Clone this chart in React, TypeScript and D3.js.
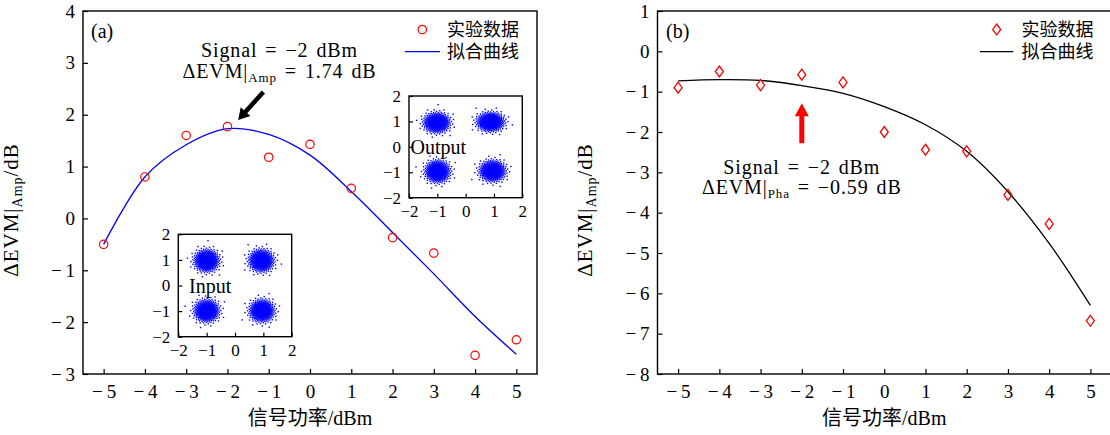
import React, { useEffect, useRef } from 'react';
import * as d3 from 'd3';

const W = 1110;
const H = 435;

// ---------------- data ----------------
const powerLevels = [-5, -4, -3, -2, -1, 0, 1, 2, 3, 4, 5];
const ampMeasured = [-0.5, 0.8, 1.6, 1.77, 1.18, 1.43, 0.58, -0.37, -0.67, -2.64, -2.34];
const ampFit = [-0.5, 0.8, 1.42, 1.73, 1.62, 1.22, 0.52, -0.27, -1.07, -1.89, -2.62];
const phaMeasured = [-0.9, -0.5, -0.84, -0.58, -0.77, -2.0, -2.44, -2.48, -3.56, -4.28, -6.68];
const phaFit = [-0.73, -0.7, -0.72, -0.85, -1.04, -1.37, -1.82, -2.48, -3.48, -4.76, -6.3];

const xTicks = [-5, -4, -3, -2, -1, 0, 1, 2, 3, 4, 5];
const yTicksAmp = [-3, -2, -1, 0, 1, 2, 3, 4];
const yTicksPha = [-8, -7, -6, -5, -4, -3, -2, -1, 0, 1];
const insetTicks = [-2, -1, 0, 1, 2];

// constellation clusters: centre x, centre y, spread x, spread y
const inputClusterCx = [-1.0, 0.93, -1.0, 0.95];
const inputClusterCy = [0.97, 0.97, -0.99, -0.99];
const inputClusterSx = [0.21, 0.21, 0.21, 0.21];
const inputClusterSy = [0.21, 0.21, 0.21, 0.21];
const outputClusterCx = [-1.02, 0.88, -0.99, 0.95];
const outputClusterCy = [0.95, 0.98, -0.97, -0.95];
const outputClusterSx = [0.22, 0.23, 0.21, 0.22];
const outputClusterSy = [0.19, 0.18, 0.21, 0.2];

const xLabel = '信号功率/dBm';
const legendMeasured = '实验数据';
const legendFit = '拟合曲线';

const SERIF = '"Liberation Serif", "Noto Sans CJK SC", serif';

const fmtMain = (d: number) => (d < 0 ? '\u2212\u2009' + Math.abs(d) : String(d));
const fmtInset = (d: number) => (d < 0 ? '\u2212' + Math.abs(d) : String(d));

export default function App() {
  const ref = useRef<SVGSVGElement>(null);

  useEffect(() => {
    const svg = d3.select(ref.current);
    svg.selectAll('*').remove();

    const xL = d3.scaleLinear().domain([-5.5, 5.5]).range([83, 537]);
    const yL = d3.scaleLinear().domain([-3, 4]).range([374, 11]);
    const xR = d3.scaleLinear().domain([-5.5, 5.5]).range([657.5, 1111]);
    const yR = d3.scaleLinear().domain([-8, 1]).range([374, 11]);

    const styleTicks = (g: any, fs: number) => {
      g.select('.domain').remove();
      g.attr('font-family', SERIF).attr('font-size', fs);
      g.selectAll('.tick line').attr('stroke', '#000').attr('stroke-width', 1.2);
      g.selectAll('.tick text').attr('fill', '#000');
    };

    const drawFrame = (x: any, y: any, xt: number[], yt: number[], fs: number, tl: number, padX: number, padY: number, fmt: any) => {
      const gx = svg.append('g').attr('transform', `translate(0,${y.range()[0]})`)
        .call(d3.axisBottom(x).tickValues(xt).tickFormat(fmt).tickSizeInner(-tl).tickSizeOuter(0).tickPadding(padX));
      styleTicks(gx, fs);
      const gy = svg.append('g').attr('transform', `translate(${x.range()[0]},0)`)
        .call(d3.axisLeft(y).tickValues(yt).tickFormat(fmt).tickSizeInner(-tl).tickSizeOuter(0).tickPadding(padY));
      styleTicks(gy, fs);
      svg.append('rect')
        .attr('x', x.range()[0]).attr('y', y.range()[1])
        .attr('width', x.range()[1] - x.range()[0]).attr('height', y.range()[0] - y.range()[1])
        .attr('fill', 'none').attr('stroke', '#000').attr('stroke-width', 1.4);
    };

    const yLabel = (cx: number, cy: number, sub: string) => {
      const t = svg.append('text')
        .attr('transform', `translate(${cx},${cy}) rotate(-90)`)
        .attr('text-anchor', 'middle')
        .attr('font-family', SERIF).attr('font-size', 21).attr('letter-spacing', 1).attr('fill', '#000');
      t.append('tspan').text('ΔEVM|');
      t.append('tspan').attr('font-size', 14).attr('dy', 4).text(sub);
      t.append('tspan').attr('dy', -4).text('/dB');
    };

    const line = (x: any, y: any) => d3.line<number>()
      .x((_, i) => x(powerLevels[i]))
      .y(d => y(d))
      .curve(d3.curveCatmullRom.alpha(0.5));

    const txt = (x: number, y: number, s: string, fs: number, anchor = 'start') =>
      svg.append('text').attr('x', x).attr('y', y).attr('text-anchor', anchor)
        .attr('font-family', SERIF).attr('font-size', fs).attr('fill', '#000').text(s);

    // ---------------- panel (a) ----------------
    drawFrame(xL, yL, xTicks, yTicksAmp, 19, 5, 11, 8, fmtMain);

    svg.append('path').datum(ampFit).attr('d', line(xL, yL) as any)
      .attr('fill', 'none').attr('stroke', '#0000ff').attr('stroke-width', 1.3);

    svg.append('g').selectAll('circle').data(ampMeasured).join('circle')
      .attr('cx', (_, i) => xL(powerLevels[i])).attr('cy', d => yL(d)).attr('r', 4.2)
      .attr('fill', 'none').attr('stroke', '#ff0000').attr('stroke-width', 1.2);

    // insets
    const drawInset = (x: any, y: any, cxs: number[], cys: number[], sxs: number[], sys: number[], label: string, labelX: number) => {
      const N = 520;
      const pts: [number, number][] = [];
      cxs.forEach((cx, k) => {
        for (let i = 0; i < N; i++) {
          const r = Math.sqrt(-2 * Math.log(1 - (i + 0.5) / N));
          const th = i * 2.399963 + k * 0.7;
          pts.push([cx + sxs[k] * r * Math.cos(th), cys[k] + sys[k] * r * Math.sin(th)]);
        }
      });
      svg.append('g').selectAll('rect').data(pts).join('rect')
        .attr('x', d => x(d[0]) - 0.7).attr('y', d => y(d[1]) - 0.7)
        .attr('width', 1.4).attr('height', 1.4).attr('fill', '#0000ff');
      drawFrame(x, y, insetTicks, insetTicks, 17, 4, 7, 8, fmtInset);
      svg.append('text').attr('x', labelX).attr('y', y(0)).attr('dy', '0.35em')
        .attr('font-family', SERIF).attr('font-size', 20).attr('fill', '#000').text(label);
    };

    const xo = d3.scaleLinear().domain([-2, 2]).range([409, 522.3]);
    const yo = d3.scaleLinear().domain([-2, 2]).range([197.7, 96]);
    drawInset(xo, yo, outputClusterCx, outputClusterCy, outputClusterSx, outputClusterSy, 'Output', 410.5);

    const xi = d3.scaleLinear().domain([-2, 2]).range([178.3, 291.7]);
    const yi = d3.scaleLinear().domain([-2, 2]).range([336.7, 234.3]);
    drawInset(xi, yi, inputClusterCx, inputClusterCy, inputClusterSx, inputClusterSy, 'Input', 189);

    // annotation (a)
    txt(279.5, 57, 'Signal = −2 dBm', 20, 'middle').attr('word-spacing', 2).attr('letter-spacing', 0.9);
    const annA2 = txt(279.5, 78, '', 20, 'middle').attr('word-spacing', 2).attr('letter-spacing', 0.9);
    annA2.append('tspan').text('ΔEVM|');
    annA2.append('tspan').attr('font-size', 13).attr('dy', 4).text('Amp');
    annA2.append('tspan').attr('dy', -4).text(' = 1.74 dB');

    const arrow = (x0: number, y0: number, x1: number, y1: number, shaftW: number, headW: number, headL: number, color: string) => {
      const dx = x1 - x0, dy = y1 - y0;
      const len = Math.hypot(dx, dy);
      const ux = dx / len, uy = dy / len;
      const px = -uy, py = ux;
      const bx = x1 - ux * headL, by = y1 - uy * headL;
      const p = [
        [x0 + px * shaftW / 2, y0 + py * shaftW / 2],
        [bx + px * shaftW / 2, by + py * shaftW / 2],
        [bx + px * headW / 2, by + py * headW / 2],
        [x1, y1],
        [bx - px * headW / 2, by - py * headW / 2],
        [bx - px * shaftW / 2, by - py * shaftW / 2],
        [x0 - px * shaftW / 2, y0 - py * shaftW / 2],
      ];
      svg.append('polygon').attr('points', p.map(q => q.join(',')).join(' ')).attr('fill', color);
    };
    arrow(xL(-1.13), yL(2.44), xL(-1.74), yL(1.9), 4.5, 13, 11, '#000');

    // legend (a)
    svg.append('circle').attr('cx', 422.3).attr('cy', 29.5).attr('r', 4.2)
      .attr('fill', 'none').attr('stroke', '#ff0000').attr('stroke-width', 1.2);
    txt(447, 29.5, legendMeasured, 18).attr('dy', '0.36em');
    svg.append('line').attr('x1', 405).attr('x2', 440).attr('y1', 51.7).attr('y2', 51.7)
      .attr('stroke', '#0000ff').attr('stroke-width', 1.3);
    txt(447, 51.7, legendFit, 18).attr('dy', '0.36em');

    txt(91, 30.5, '(a)', 20).attr('dy', '0.35em');

    txt(xL(0), 418, xLabel, 20, 'middle').attr('dy', '0.35em');
    yLabel(18, 210, 'Amp');

    // ---------------- panel (b) ----------------
    drawFrame(xR, yR, xTicks, yTicksPha, 19, 5, 11, 8, fmtMain);

    svg.append('path').datum(phaFit).attr('d', line(xR, yR) as any)
      .attr('fill', 'none').attr('stroke', '#000').attr('stroke-width', 1.3);

    const diamond = 'M0,-5.5L4,0L0,5.5L-4,0Z';
    svg.append('g').selectAll('path').data(phaMeasured).join('path')
      .attr('transform', (d, i) => `translate(${xR(powerLevels[i])},${yR(d)})`)
      .attr('d', diamond)
      .attr('fill', 'none').attr('stroke', '#ff0000').attr('stroke-width', 1.3);

    arrow(xR(-2), yR(-2.28), xR(-2), yR(-1.29), 5, 14, 13, '#ff0000');

    txt(xR(-2), 174, 'Signal = −2 dBm', 20, 'middle').attr('word-spacing', 2).attr('letter-spacing', 0.9);
    const annB2 = txt(xR(-2), 194, '', 20, 'middle').attr('word-spacing', 2).attr('letter-spacing', 0.9);
    annB2.append('tspan').text('ΔEVM|');
    annB2.append('tspan').attr('font-size', 13).attr('dy', 4).text('Pha');
    annB2.append('tspan').attr('dy', -4).text(' = −0.59 dB');

    svg.append('path').attr('transform', 'translate(996.7,29.5)').attr('d', diamond)
      .attr('fill', 'none').attr('stroke', '#ff0000').attr('stroke-width', 1.3);
    txt(1021.5, 29.5, legendMeasured, 18).attr('dy', '0.36em');
    svg.append('line').attr('x1', 980).attr('x2', 1013.3).attr('y1', 51.7).attr('y2', 51.7)
      .attr('stroke', '#000').attr('stroke-width', 1.3);
    txt(1021.5, 51.7, legendFit, 18).attr('dy', '0.36em');

    txt(666, 30.5, '(b)', 20).attr('dy', '0.35em');

    txt(xR(0), 418, xLabel, 20, 'middle').attr('dy', '0.35em');
    yLabel(592, 210, 'Amp');
  }, []);

  return (
    <svg ref={ref} width={W} height={H}
      style={{ position: 'absolute', left: 0, top: 0, background: '#fff' }} />
  );
}
